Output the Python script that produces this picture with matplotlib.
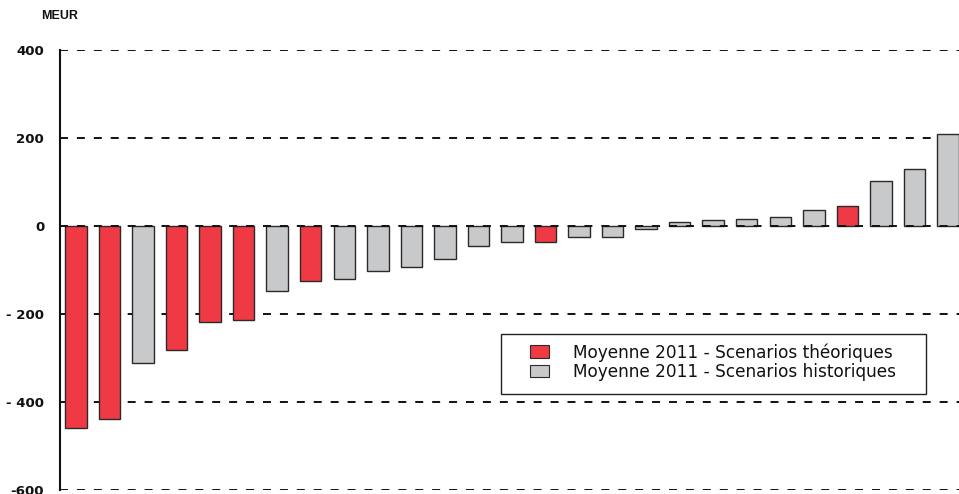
import matplotlib
matplotlib.use("Agg")
import matplotlib.pyplot as plt
from matplotlib.patches import Patch, Rectangle

values = [-459, -439, -311, -282, -218, -214, -148, -126, -120, -103, -93, -75,
          -45, -37, -37, -25, -25, -6, 8, 13, 17, 20, 36, 46, 103, 129, 208]
series = ["t", "t", "h", "t", "t", "t", "h", "t", "h", "h", "h", "h",
          "h", "h", "t", "h", "h", "h", "h", "h", "h", "h", "h", "t", "h", "h", "h"]
yticks = [400, 200, 0, -200, -400, -600]
ytick_labels = ["400", "200", "0", "- 200", "- 400", "-600"]
legend_labels = ["Moyenne 2011 - Scenarios théoriques", "Moyenne 2011 - Scenarios historiques"]

RED = "#EF3A45"
GREY = "#C8C9CB"
colors = [RED if s == "t" else GREY for s in series]

plt.rcParams['font.family'] = ['DejaVu Sans']

fig = plt.figure(figsize=(9.59, 4.94), dpi=100)
ax = fig.add_axes([59.5 / 959, 4 / 494, 1 - 59.5 / 959, 440 / 494])

x = list(range(len(values)))
ax.bar(x, values, width=0.64, color=colors, edgecolor="#2a2a2a", linewidth=1.0, zorder=3)

for t in yticks:
    ax.axhline(t, color="#111111", linewidth=1.4, linestyle=(0, (4.1, 4.6)),
               zorder=2 if t != 0 else 4)

ax.set_xlim(-0.49, 26.33)
ax.set_ylim(-600, 400)
ax.set_yticks(yticks)
ax.set_yticklabels(ytick_labels, fontsize=9.6, fontweight="bold", color="#111111")
ax.tick_params(axis="y", length=0, pad=11)
ax.set_xticks([])
for s in ["top", "right", "bottom"]:
    ax.spines[s].set_visible(False)
ax.spines["left"].set_linewidth(1.5)
ax.spines["left"].set_color("#111111")
ax.patch.set_alpha(0)

fig.text(41 / 959, 1 - 16 / 494, "MEUR", fontsize=9, fontweight="bold", va="center", ha="left",
         color="#111111", family=["Liberation Sans", "DejaVu Sans"])

# legend frame
fig.patches.append(Rectangle((501 / 959, (494 - 394) / 494), 425 / 959, 60 / 494,
                             transform=fig.transFigure, facecolor="white",
                             edgecolor="#222222", linewidth=1.0, zorder=5))

handles = [Patch(facecolor=RED, edgecolor="#2a2a2a", linewidth=0.8),
           Patch(facecolor=GREY, edgecolor="#2a2a2a", linewidth=0.8)]
leg = fig.legend(handles, legend_labels, loc="upper left",
                 bbox_to_anchor=(530 / 959, (494 - 343) / 494),
                 fontsize=12.2, frameon=False, borderpad=0, borderaxespad=0,
                 handlelength=1.12, handleheight=0.78, handletextpad=1.42, labelspacing=0.08)
leg.set_zorder(6)
for txt in leg.get_texts():
    txt.set_color("#111111")

fig.savefig("out.png", dpi=100)
